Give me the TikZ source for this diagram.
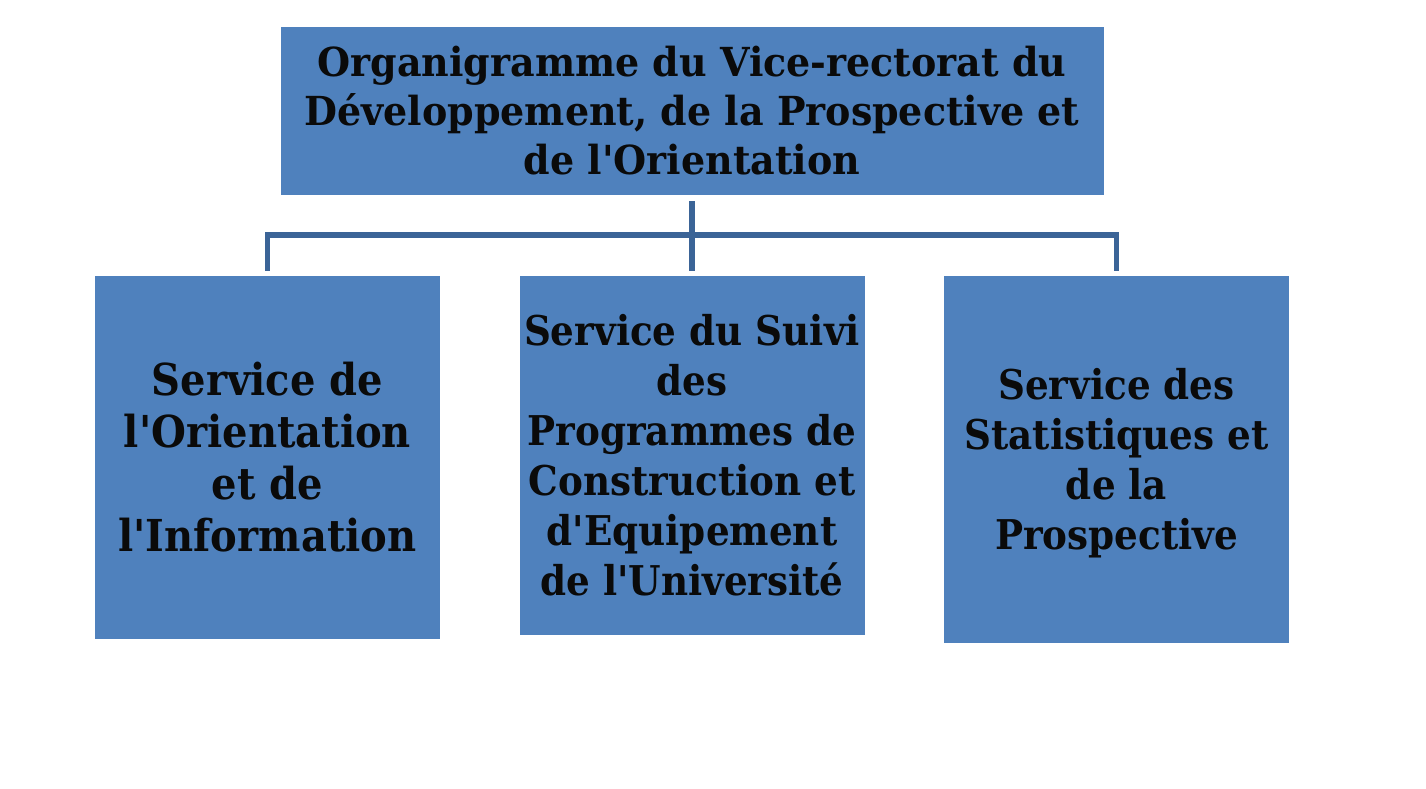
\documentclass[tikz,border=0pt]{standalone}
\usepackage{fontspec}
\setmainfont{DejaVu Serif}[FakeStretch=0.91, Ligatures=TeXOff]
\newfontfamily\topfont{DejaVu Serif}[FakeStretch=0.95, Ligatures=TeXOff]
\usepackage{xcolor}
\usetikzlibrary{calc}
\definecolor{boxfill}{HTML}{4F81BD}
\definecolor{linkcol}{HTML}{3B6497}
\definecolor{ink}{HTML}{0A0A0A}
\tikzset{
  box/.style={fill=boxfill, text=ink, inner sep=0pt, align=center,
    minimum width=345pt},
  conn/.style={draw=linkcol, line width=5.5pt, line cap=butt, line join=miter},
}
\begin{document}
\begin{tikzpicture}[x=1pt,y=-1pt]
  \useasboundingbox (0,0) rectangle (1426,789);

  % top box
  \node[box, minimum width=823pt, minimum height=168pt,
    font=\topfont\bfseries\fontsize{40}{49}\selectfont] (top) at (692,111)
    {Organigramme du Vice-rectorat du\\ D\'eveloppement, de la Prospective et\\ de l'Orientation};

  % services
  \node[box, minimum height=363pt,
    font=\bfseries\fontsize{44}{52}\selectfont] (orient) at (267.5,457.5)
    {Service de\\ l'Orientation\\ et de\\ l'Information};
  \node[box, minimum height=359pt,
    font=\bfseries\fontsize{41}{50}\selectfont] (suivi) at (692,455.5)
    {Service du Suivi\\ des\\ Programmes de\\ Construction et\\ d'Equipement\\ de l'Universit\'e};
  \node[box, minimum height=367pt,
    font=\bfseries\fontsize{41}{50}\selectfont] (stat) at (1116.5,459.5)
    {\rule{0pt}{8pt}\\[-20pt]Service des\\ Statistiques et\\ de la\\ Prospective};

  \coordinate (bus) at ($(top.south)+(0,40)$);
  \draw[conn] ([yshift=-6pt]top.south) -- ([yshift=5pt]suivi.north);
  \draw[conn] (bus) -| ([yshift=5pt]orient.north);
  \draw[conn] (bus) -| ([yshift=5pt]stat.north);
\end{tikzpicture}
\end{document}
